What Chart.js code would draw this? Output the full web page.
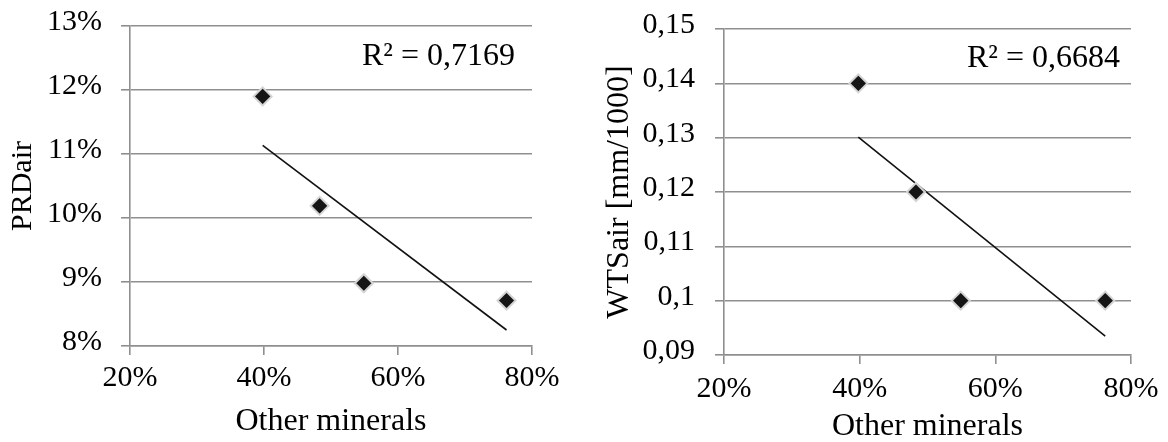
<!DOCTYPE html>
<html>
<head>
<meta charset="utf-8">
<script src="https://cdn.jsdelivr.net/npm/chart.js@4/dist/chart.umd.min.js"></script>
<style>
  html, body { margin: 0; padding: 0; background: #fff; overflow: hidden; }
  .box { position: absolute; top: 0; }
</style>
</head>
<body>
<div class="box" style="left:0"><canvas id="prdChart" width="575" height="442"></canvas></div>
<div class="box" style="left:580px"><canvas id="wtsChart" width="588" height="442"></canvas></div>
<script>
// данные
const otherMinerals = [0.398, 0.483, 0.549, 0.762];
const prdAir = [0.119, 0.1019, 0.0898, 0.0871];
const wtsAir = [0.14, 0.12, 0.10, 0.10];
const xTicks = [0.2, 0.4, 0.6, 0.8];
const prdTicks = [0.08, 0.09, 0.10, 0.11, 0.12, 0.13];
const wtsTicks = [0.09, 0.10, 0.11, 0.12, 0.13, 0.14, 0.15];
const r2Labels = ['R² = 0,7169', 'R² = 0,6684'];
const xTitle = 'Other minerals';
const yTitles = ['PRDair', 'WTSair [mm/1000]'];

const FONT = 'Liberation Serif, Times New Roman, serif';
const GRID = '#8f8f8f';

// линия тренда (МНК) по точкам
function trend(xs, ys) {
  const n = xs.length;
  const mx = xs.reduce((a, b) => a + b, 0) / n;
  const my = ys.reduce((a, b) => a + b, 0) / n;
  let sxy = 0, sxx = 0;
  xs.forEach((x, i) => { sxy += (x - mx) * (ys[i] - my); sxx += (x - mx) * (x - mx); });
  const k = sxy / sxx;
  const x0 = Math.min(...xs), x1 = Math.max(...xs);
  return [{ x: x0, y: my + k * (x0 - mx) }, { x: x1, y: my + k * (x1 - mx) }];
}

const pct = v => Math.round(v * 100) + '%';
const comma = v => String(Number(v.toFixed(2))).replace('.', ',');

// надпись R² в правом верхнем углу
const r2Plugin = {
  id: 'r2',
  afterDraw(chart, args, opts) {
    const { ctx, chartArea } = chart;
    ctx.save();
    ctx.font = '32px ' + FONT;
    ctx.fillStyle = '#000';
    ctx.textAlign = 'right';
    ctx.textBaseline = 'alphabetic';
    ctx.fillText(opts.text, chartArea.right - opts.dx, chartArea.top + opts.dy);
    ctx.restore();
  }
};

// убираем автоматические отступы под подписи, размеры задаём сами
function noPad(s) {
  s.paddingTop = 0; s.paddingBottom = 0; s.paddingLeft = 0; s.paddingRight = 0;
}

function makeChart(id, ys, yTickVals, fmt, cfg) {
  const pts = otherMinerals.map((x, i) => ({ x: x, y: ys[i] }));
  return new Chart(document.getElementById(id), {
    type: 'scatter',
    data: {
      datasets: [{
        data: pts,
        pointStyle: 'rectRot',
        pointRadius: 9,
        pointHoverRadius: 9,
        backgroundColor: '#151515',
        borderColor: '#d4d4d4',
        borderWidth: 2
      }, {
        type: 'line',
        data: trend(otherMinerals, ys),
        borderColor: '#111',
        borderWidth: 1.6,
        pointRadius: 0,
        fill: false
      }]
    },
    options: {
      responsive: false,
      animation: false,
      events: [],
      layout: { padding: { left: 0, top: cfg.top, right: cfg.right, bottom: 0 } },
      plugins: {
        legend: { display: false },
        tooltip: { enabled: false },
        r2: { text: cfg.r2, dx: cfg.r2dx, dy: cfg.r2dy }
      },
      scales: {
        x: {
          type: 'linear',
          min: xTicks[0],
          max: xTicks[xTicks.length - 1],
          afterBuildTicks: s => { s.ticks = xTicks.map(v => ({ value: v })); },
          afterFit: s => { s.height = 442 - cfg.bottom; noPad(s); },
          grid: { drawOnChartArea: false, drawTicks: true, tickLength: 9, color: GRID, lineWidth: 1.6 },
          border: { display: true, color: GRID, width: 1.6 },
          ticks: { color: '#000', padding: cfg.xPad, font: { family: FONT, size: 30, lineHeight: 1.2 }, callback: v => pct(v), maxRotation: 0 },
          title: { display: true, text: xTitle, color: '#000', font: { family: FONT, size: 32, lineHeight: 1.2 }, padding: { top: 0, bottom: cfg.xTitlePad } }
        },
        y: {
          type: 'linear',
          min: yTickVals[0],
          max: yTickVals[yTickVals.length - 1],
          afterBuildTicks: s => { s.ticks = yTickVals.map(v => ({ value: v })); },
          afterFit: s => { s.width = cfg.left; noPad(s); },
          grid: { drawTicks: true, tickLength: 9, color: GRID, lineWidth: 1.6 },
          border: { display: true, color: GRID, width: 1.6 },
          ticks: { color: '#000', padding: cfg.yPad, labelOffset: -4, font: { family: FONT, size: 30, lineHeight: 1.2 }, callback: v => fmt(v) },
          title: { display: true, text: cfg.yTitle, color: '#000', font: { family: FONT, size: cfg.yTitleSize, lineHeight: 1.2 }, padding: { top: cfg.yTitlePad, bottom: 0 } }
        }
      }
    },
    plugins: [r2Plugin]
  });
}

makeChart('prdChart', prdAir, prdTicks, pct, {
  left: 130, right: 43, top: 26, bottom: 346,
  xPad: 5, yPad: 19, xTitlePad: 1, yTitlePad: 5, yTitleSize: 30,
  yTitle: yTitles[0], r2: r2Labels[0], r2dx: 17, r2dy: 39
});

makeChart('wtsChart', wtsAir, wtsTicks, comma, {
  left: 144, right: 37, top: 29, bottom: 355,
  xPad: 7, yPad: 20, xTitlePad: -4, yTitlePad: 20, yTitleSize: 32,
  yTitle: yTitles[1], r2: r2Labels[1], r2dx: 11, r2dy: 38
});
</script>
</body>
</html>
